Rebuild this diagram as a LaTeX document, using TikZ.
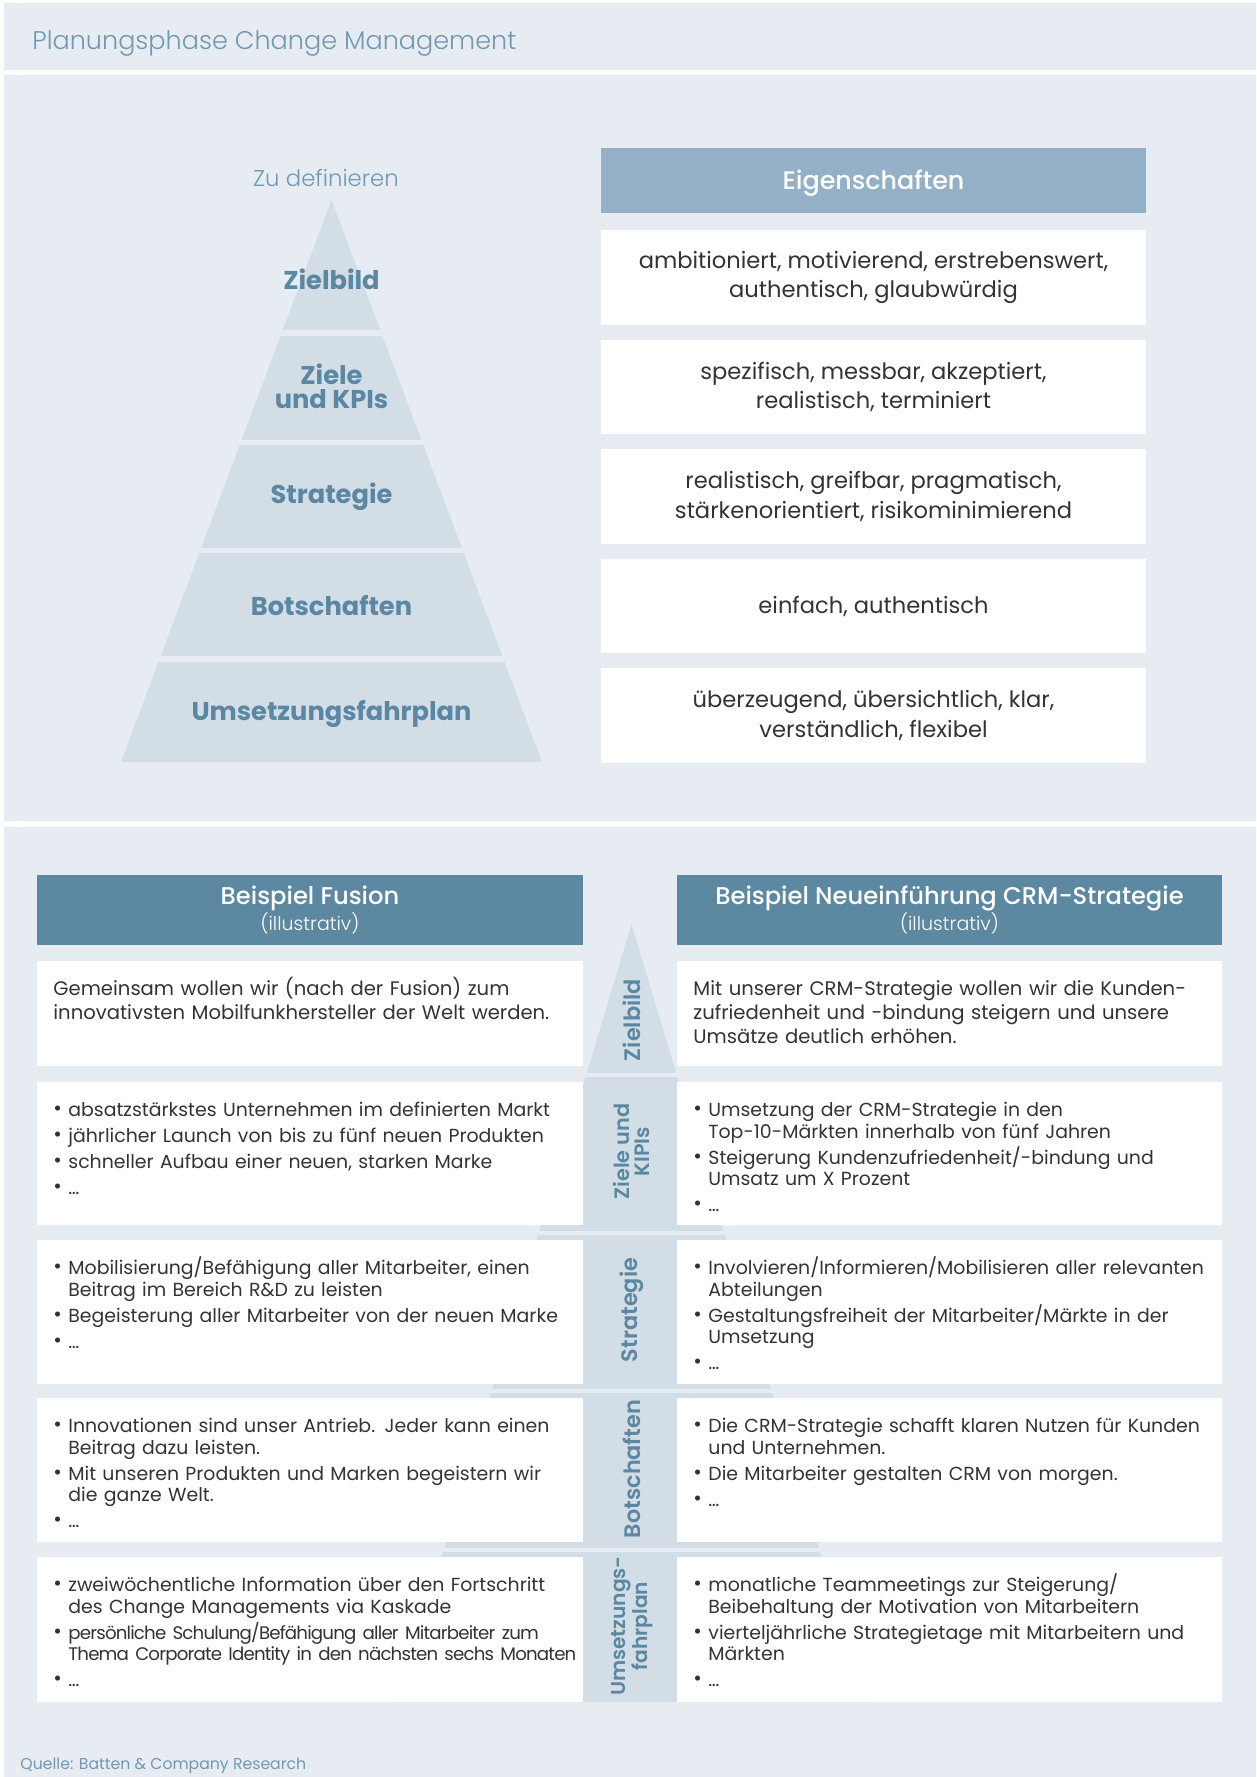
\documentclass[tikz,border=0pt]{standalone}
\usepackage{fontspec}
\setmainfont{Poppins}
\newfontfamily\lightfont{Poppins Light}
\newfontfamily\medfont{Poppins Medium}
\newfontfamily\semifont{Poppins SemiBold}

\definecolor{panel}{HTML}{E7ECF3}
\definecolor{pyr}{HTML}{D2DDE6}
\definecolor{pyrtext}{HTML}{5B87A2}
\definecolor{headlight}{HTML}{93B0C6}
\definecolor{headdark}{HTML}{5C88A1}
\definecolor{body}{HTML}{333333}
\definecolor{titletext}{HTML}{7099B3}

% bullet with hanging indent; items are separated by \par
\newcommand\bul{\hangindent=7.5pt\hangafter=1%
  \makebox[7.5pt][l]{\raisebox{.05em}{\scalebox{1.1}{\textbullet}}}}
% fixed line pitch, whatever the glyphs
\newcommand\fixlines{\lineskiplimit=-\maxdimen\lineskip=0pt\relax}

\begin{document}
\begin{tikzpicture}[
 x=.5pt,y=-.5pt,
 plabel/.style={font=\bfseries\fontsize{12.85}{12}\selectfont,text=pyrtext,align=center,inner sep=0pt},
 prop/.style={font=\fontsize{11.3}{14.75}\selectfont,text=body,align=center,inner sep=0pt},
 lowtxt/.style={anchor=base west,text width=290pt,align=left,inner sep=0pt,
   font=\fontsize{9.45}{10.75}\selectfont\fixlines\setlength\parskip{2.25pt},text=body},
 lowpar/.style={lowtxt,font=\fontsize{9.8}{12}\selectfont\fixlines},
 vlabel/.style={rotate=90,font=\semifont\fontsize{11.2}{10.5}\selectfont,text=pyrtext,align=center,inner sep=0pt},
 headtxt/.style={font=\medfont\fontsize{12.1}{12}\selectfont,text=white,inner sep=0pt},
 subtxt/.style={font=\lightfont\fontsize{9.5}{9}\selectfont,text=white,inner sep=0pt}]
 \useasboundingbox (0,0) rectangle (1257,1777);
 \fill[white] (0,0) rectangle (1257,1777);
 % three panels
 \fill[panel] (4,3) rectangle (1256,70);
 \fill[panel] (4,75) rectangle (1256,821);
 \fill[panel] (4,827) rectangle (1256,1777);
 \node[anchor=base west,inner sep=0pt,font=\lightfont\fontsize{12.75}{14}\selectfont,text=titletext]
   (title) at (32,50) {Planungsphase Change Management};

 % pyramid, cut into five levels
 \fill[pyr] (331.5,200) -- (542,762) -- (121,762) -- cycle;
 \foreach \y in {333,442.5,550.5,659}{\draw[panel,line width=2.75pt] (100,\y) -- (560,\y);}
 \node[font=\lightfont\fontsize{11.4}{12}\selectfont,text=titletext,inner sep=0pt] (zudef) at (326,178) {Zu definieren};
 \foreach \t/\y [count=\i] in {Zielbild/279,{Ziele\\und KPIs}/386,Strategie/497,Botschaften/606,Umsetzungsfahrplan/714}{
   \node[plabel] (lvl\i) at (331.5,\y) {\t};
 }

 % properties per level
 \fill[headlight] (601,148) rectangle (1146,212.5);
 \node[font=\medfont\fontsize{12.7}{12}\selectfont,text=white,inner sep=0pt] (eig) at (873.5,183.5) {Eigenschaften};
 \foreach \t [count=\i] in {{ambitioniert, motivierend, erstrebenswert,\\authentisch, glaubwürdig},
   {spezifisch, messbar, akzeptiert,\\realistisch, terminiert},
   {realistisch, greifbar, pragmatisch,\\stärkenorientiert, risikominimierend},
   {einfach, authentisch},
   {überzeugend, übersichtlich, klar,\\verständlich, flexibel}}{
   \fill[white] (601,{230+109.5*(\i-1)}) rectangle ++(545,94.5);
   \node[prop] (prop\i) at (873.5,{277.5+109.5*(\i-1)}) {\t};
 }

 % lower pyramid behind the example rows
 \fill[pyr] (631.5,924) -- (864.9,1702) -- (398.1,1702) -- cycle;
 \foreach \y in {1075,1232.5,1391,1549.5}{\draw[panel,line width=2pt] (380,\y) -- (880,\y);}

 % column heads
 \fill[headdark] (37,875) rectangle (583,945);
 \fill[headdark] (677,875) rectangle (1222,945);
 \node[headtxt] (hfus) at (310,898.8) {Beispiel Fusion};
 \node[subtxt] (hfusi) at (310,923.5) {(illustrativ)};
 \node[headtxt] (hcrm) at (949.5,898.8) {Beispiel Neueinführung CRM-Strategie};
 \node[subtxt] (hcrmi) at (949.5,923.5) {(illustrativ)};

 % white rows
 \foreach \top/\bot in {961/1066,1082/1225,1240/1384,1398/1542,1557/1702}{
   \fill[white] (37,\top) rectangle (583,\bot);
   \fill[white] (677,\top) rectangle (1222,\bot);
 }

 % level names in the middle column
 \node[vlabel] (v1) at (631.5,1020) {Zielbild};
 \node[vlabel,font=\semifont\fontsize{10.4}{10}\selectfont] (v2) at (631.5,1151.7) {Ziele und\\KIPIs};
 \node[vlabel] (v3) at (631.5,1310) {Strategie};
 \node[vlabel] (v4) at (631.5,1469) {Botschaften};
 \node[vlabel,font=\semifont\fontsize{10.1}{11}\selectfont] (v5) at (632.5,1626) {Umsetzungs-\\fahrplan};

 % Fusion
 \node[lowpar] (f1) at (53,995.5) {Gemeinsam wollen wir (nach der Fusion) zum\\innovativsten Mobilfunkhersteller der Welt werden.};
 \node[lowtxt] (f2) at (53,1116.5) {\bul absatzstärkstes Unternehmen im definierten Markt
   \par\bul jährlicher Launch von bis zu fünf neuen Produkten
   \par\bul schneller Aufbau einer neuen, starken Marke \par\bul \dots};
 \node[lowtxt] (f3) at (53,1274.5) {\bul Mobilisierung/Befähigung aller Mitarbeiter, einen\newline Beitrag im Bereich R\&D zu leisten
   \par\bul Begeisterung aller Mitarbeiter von der neuen Marke \par\bul \dots};
 \node[lowtxt] (f4) at (53,1432.5) {\bul Innovationen sind unser Antrieb. Jeder kann einen\newline Beitrag dazu leisten.
   \par\bul Mit unseren Produkten und Marken begeistern wir\newline die ganze Welt. \par\bul \dots};
 \node[lowtxt] (f5) at (53,1591.5) {\bul zweiwöchentliche Information über den Fortschritt\newline des Change Managements via Kaskade
   \par\bul {\fontsize{9.1}{10.75}\selectfont\addfontfeature{LetterSpace=-4.5}persönliche Schulung/Befähigung aller Mitarbeiter zum\newline Thema Corporate Identity in den nächsten sechs Monaten}
   \par\bul \dots};

 % CRM
 \node[lowpar] (c1) at (693,995.5) {Mit unserer CRM-Strategie wollen wir die Kunden-\\zufriedenheit und -bindung steigern und unsere\\Umsätze deutlich erhöhen.};
 \node[lowtxt] (c2) at (693,1116.5) {\bul Umsetzung der CRM-Strategie in den\newline Top-10-Märkten innerhalb von fünf Jahren
   \par\bul Steigerung Kundenzufriedenheit/-bindung und\newline Umsatz um X Prozent \par\bul \dots};
 \node[lowtxt] (c3) at (693,1274.5) {\bul Involvieren/Informieren/Mobilisieren aller relevanten\newline Abteilungen
   \par\bul Gestaltungsfreiheit der Mitarbeiter/Märkte in der\newline Umsetzung \par\bul \dots};
 \node[lowtxt] (c4) at (693,1432.5) {\bul Die CRM-Strategie schafft klaren Nutzen für Kunden\newline und Unternehmen.
   \par\bul Die Mitarbeiter gestalten CRM von morgen. \par\bul \dots};
 \node[lowtxt] (c5) at (693,1591.5) {\bul monatliche Teammeetings zur Steigerung/\newline Beibehaltung der Motivation von Mitarbeitern
   \par\bul vierteljährliche Strategietage mit Mitarbeitern und\newline Märkten \par\bul \dots};

 \node[anchor=base west,inner sep=0pt,font=\fontsize{7.85}{10}\selectfont,text=titletext]
   (src) at (20,1769) {Quelle: Batten \& Company Research};
\end{tikzpicture}
\end{document}
